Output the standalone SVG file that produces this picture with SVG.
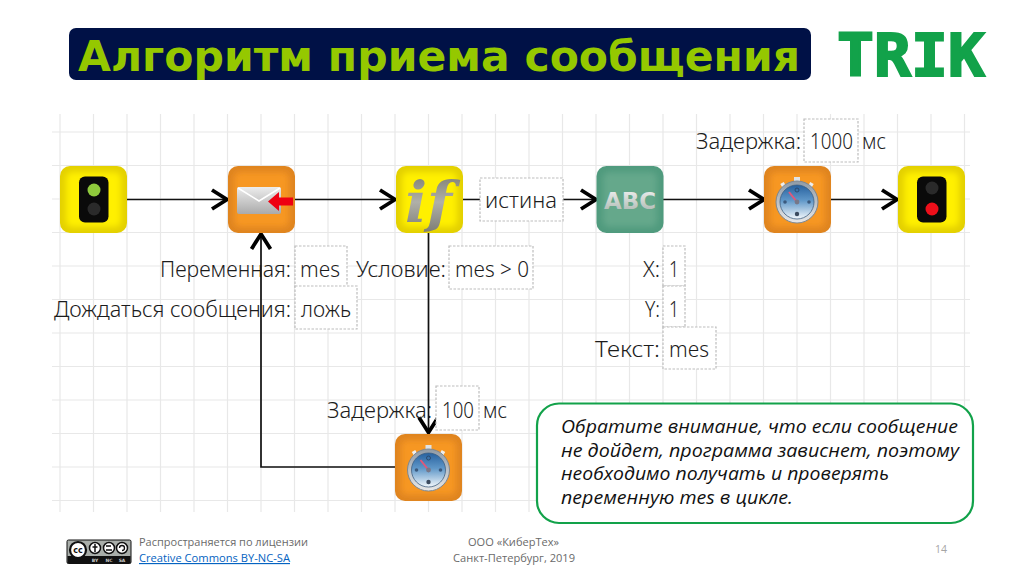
<svg xmlns="http://www.w3.org/2000/svg" width="1024" height="574" viewBox="0 0 1024 574">
<defs>
<style>
.lbl{font-family:"Noto Sans","Liberation Sans",sans-serif;font-size:22px;fill:#1c1c1c;font-weight:300}
.box{fill:#fff;stroke:#bdbdbd;stroke-width:1.2;stroke-dasharray:2.5 1.5}
.wire{fill:none;stroke:#111;stroke-width:1.7}
.note{font-family:"Open Sans","Liberation Sans",sans-serif;font-style:italic;font-size:18.300px;fill:#111}
.foot{font-family:"Open Sans","Liberation Sans",sans-serif;font-size:11.500px;fill:#6a6a6a}
.grid{stroke:#e8e8e8;stroke-width:1.2;fill:none}
</style>
<marker id="arr" markerUnits="userSpaceOnUse" markerWidth="26" markerHeight="26" refX="20" refY="13" orient="auto">
<path d="M4 3.500 L19 13 L4 22.500" fill="none" stroke="#000" stroke-width="3.800" stroke-linejoin="miter"/>
</marker>
<filter id="soft" x="-20%" y="-20%" width="140%" height="140%"><feGaussianBlur stdDeviation="3"/></filter>
<linearGradient id="env" x1="0" y1="0" x2="0" y2="1"><stop offset="0" stop-color="#ececec"/><stop offset="1" stop-color="#aaa"/></linearGradient>
<linearGradient id="gly" x1="0" y1="0" x2="0" y2="1"><stop offset="0" stop-color="#77776a"/><stop offset="0.5" stop-color="#b0b0a8"/><stop offset="1" stop-color="#787870"/></linearGradient>
<linearGradient id="abc" x1="0" y1="0" x2="0" y2="1"><stop offset="0" stop-color="#f2f2f2"/><stop offset="1" stop-color="#a9b5ae"/></linearGradient>
<linearGradient id="dial" x1="0" y1="0" x2="0" y2="1"><stop offset="0" stop-color="#27619f"/><stop offset="0.45" stop-color="#5f97c8"/><stop offset="1" stop-color="#f2f7fb"/></linearGradient>
<linearGradient id="rim" x1="0" y1="0" x2="0" y2="1"><stop offset="0" stop-color="#8f9aa5"/><stop offset="1" stop-color="#e8e8e8"/></linearGradient>
<g id="yel"><rect width="67" height="67" rx="10" fill="#e3d000"/><rect x="6" y="6" width="55" height="55" rx="6" fill="#fff000" filter="url(#soft)"/></g>
<g id="ora"><rect width="67" height="67" rx="10" fill="#df8420"/><rect x="6" y="6" width="55" height="55" rx="6" fill="#f79720" filter="url(#soft)"/></g>
<g id="watch">
<rect x="-3" y="-25" width="6" height="6" fill="#dfe3e6"/>
<path d="M-15 -19 L-12 -14 M15 -19 L12 -14" stroke="#eee" stroke-width="4"/>
<circle r="21" fill="url(#rim)" stroke="#7d8791" stroke-width="1"/>
<circle r="17" fill="url(#dial)" stroke="#3f5f82" stroke-width="0.8"/>
<circle cy="-12" r="2" fill="none" stroke="#2c4a6e"/><circle cx="-12" r="1.8" fill="#3b5a7e"/><circle cx="12" r="1.8" fill="#3b5a7e"/><circle cy="12" r="2.2" fill="#3b4a5e"/>
<path d="M0 0 L-8 -10" stroke="#e0587a" stroke-width="2"/><circle r="2.4" fill="#778" />
</g>
</defs>
<rect width="1024" height="574" fill="#fff"/>
<path class="grid" d="M60 114V512M93.500 114V512M127 114V512M160.500 114V512M194 114V512M227.500 114V512M261 114V512M294.500 114V512M328 114V512M361.500 114V512M395 114V512M428.500 114V512M462 114V512M495.500 114V512M529 114V512M562.500 114V512M596 114V512M629.500 114V512M663 114V512M696.500 114V512M730 114V512M763.500 114V512M797 114V512M830.500 114V512M864 114V512M897.500 114V512M931 114V512M964.500 114V512M52 132H970M52 165.500H970M52 199H970M52 232.500H970M52 266H970M52 299.500H970M52 333H970M52 366.500H970M52 400H970M52 433.500H970M52 467H970M52 500.500H970"/>
<g id="title"><rect x="69" y="28" width="742" height="52" rx="7" fill="#001146"/>
<text x="78" y="70.500" font-family="DejaVu Sans,sans-serif" font-weight="700" font-size="42.500" fill="#95c800" textLength="722" lengthAdjust="spacing">Алгоритм приема сообщения</text></g>
<g id="logo"><text x="837" y="75.500" font-family="DejaVu Sans Mono,monospace" font-weight="700" font-size="58" fill="#12a24a" stroke="#12a24a" stroke-width="2" textLength="148" lengthAdjust="spacingAndGlyphs">TRIK</text></g>
<g id="connectors">
<path class="wire" d="M127 199.500H228" marker-end="url(#arr)"/>
<path class="wire" d="M295 199.500H396" marker-end="url(#arr)"/>
<path class="wire" d="M462 199.500H597" marker-end="url(#arr)"/>
<path class="wire" d="M663 199.500H765" marker-end="url(#arr)"/>
<path class="wire" d="M831 199.500H898" marker-end="url(#arr)"/>
<path class="wire" d="M428.500 233V433.500" marker-end="url(#arr)"/>
<path class="wire" d="M396 467H261V233" marker-end="url(#arr)"/>
</g>
<g id="n-start"><use href="#yel" x="60" y="166"/><rect x="79" y="176.500" width="29.500" height="46" rx="6" fill="#0a0a0a"/><circle cx="94" cy="190" r="6.500" fill="#8fca3c"/><circle cx="94" cy="209" r="6.500" fill="#2a2a2a"/></g>
<g id="n-receive"><use href="#ora" x="228" y="166"/><rect x="237" y="187" width="44" height="27" rx="2" fill="url(#env)"/><path d="M238 188 L259 201 L280 188" fill="none" stroke="#fff" stroke-width="1.500"/><path d="M268 201.500 L279 192 V197.500 H293 V205.500 H279 V211Z" fill="#ee0012"/></g>
<g id="n-if"><use href="#yel" x="396" y="166"/><text x="405" y="222" font-family="DejaVu Serif,serif" font-style="italic" font-weight="700" font-size="56" fill="url(#gly)" textLength="47" lengthAdjust="spacingAndGlyphs">if</text></g>
<g id="l-cond"><rect class="box" x="480" y="178" width="83" height="43"/><text class="lbl" x="485" y="208" textLength="72">истина</text></g>
<g id="n-abc"><rect x="596.500" y="166" width="67" height="67" rx="10" fill="#4f9a7d"/><rect x="603" y="172" width="54" height="55" rx="6" fill="#65a88b" filter="url(#soft)"/><text x="604" y="209" font-family="DejaVu Sans,sans-serif" font-weight="700" font-size="23" fill="url(#abc)" textLength="52" lengthAdjust="spacingAndGlyphs">ABC</text></g>
<g id="n-delay1"><use href="#ora" x="764" y="166"/><use href="#watch" x="797" y="202"/></g>
<g id="n-stop"><use href="#yel" x="898" y="166"/><rect x="917" y="176.500" width="29.500" height="46" rx="6" fill="#0a0a0a"/><circle cx="932" cy="188" r="6.500" fill="#2a2a2a"/><circle cx="932" cy="209" r="6.500" fill="#ee0f1a"/></g>
<g id="n-delay2"><use href="#ora" x="395" y="434"/><use href="#watch" x="428.500" y="470"/></g>
<g id="l-receive">
<rect class="box" x="295" y="246" width="52" height="41"/><rect class="box" x="295" y="286" width="62" height="43"/>
<text class="lbl" x="160" y="277" textLength="131" lengthAdjust="spacingAndGlyphs">Переменная:</text><text class="lbl" x="300" y="277" textLength="40" lengthAdjust="spacingAndGlyphs">mes</text>
<text class="lbl" x="54" y="317" textLength="237" lengthAdjust="spacingAndGlyphs">Дождаться сообщения:</text><text class="lbl" x="301" y="317" textLength="50" lengthAdjust="spacingAndGlyphs">ложь</text></g>
<g id="l-if"><rect class="box" x="449" y="246" width="84" height="43"/><text class="lbl" x="356" y="277" textLength="90" lengthAdjust="spacingAndGlyphs">Условие:</text><text class="lbl" x="455" y="277" textLength="74" lengthAdjust="spacingAndGlyphs">mes &gt; 0</text></g>
<g id="l-abc"><rect class="box" x="663" y="246" width="22" height="40"/><rect class="box" x="663" y="286" width="22" height="41"/><rect class="box" x="663" y="327" width="53" height="42"/>
<text class="lbl" x="643" y="277" textLength="17" lengthAdjust="spacingAndGlyphs">X:</text><text class="lbl" x="669" y="277" textLength="10" lengthAdjust="spacingAndGlyphs">1</text>
<text class="lbl" x="645" y="317" textLength="15" lengthAdjust="spacingAndGlyphs">Y:</text><text class="lbl" x="669" y="317" textLength="10" lengthAdjust="spacingAndGlyphs">1</text>
<text class="lbl" x="595" y="357" textLength="65" lengthAdjust="spacingAndGlyphs">Текст:</text><text class="lbl" x="669" y="357" textLength="40" lengthAdjust="spacingAndGlyphs">mes</text></g>
<g id="l-delay1"><rect class="box" x="804" y="119" width="54" height="43"/><text class="lbl" x="696" y="149" textLength="105" lengthAdjust="spacingAndGlyphs">Задержка:</text><text class="lbl" x="810" y="149" textLength="43" lengthAdjust="spacingAndGlyphs">1000</text><text class="lbl" x="862" y="149" textLength="24" lengthAdjust="spacingAndGlyphs">мс</text></g>
<g id="l-delay2"><rect class="box" x="436" y="386" width="43" height="44"/><text class="lbl" x="327" y="418" textLength="105" lengthAdjust="spacingAndGlyphs">Задержка:</text><text class="lbl" x="442" y="418" textLength="32" lengthAdjust="spacingAndGlyphs">100</text><text class="lbl" x="483" y="418" textLength="24" lengthAdjust="spacingAndGlyphs">мс</text></g>
<g id="note"><rect x="537" y="403.500" width="436" height="119.500" rx="22" fill="#fff" stroke="#12a24a" stroke-width="2.200"/>
<text class="note" x="561" y="433" textLength="397" lengthAdjust="spacingAndGlyphs">Обратите внимание, что если сообщение</text>
<text class="note" x="561" y="456.500" textLength="398" lengthAdjust="spacingAndGlyphs">не дойдет, программа зависнет, поэтому</text>
<text class="note" x="561" y="480" textLength="328" lengthAdjust="spacingAndGlyphs">необходимо получать и проверять</text>
<text class="note" x="561" y="503.500" textLength="232" lengthAdjust="spacingAndGlyphs">переменную mes в цикле.</text></g>
<g id="cc"><rect x="67" y="540" width="64" height="23.500" rx="1.500" fill="#a9aeaa" stroke="#111"/><path d="M67.500 556H130.500V563.500H67.500Z" fill="#111"/>
<circle cx="78" cy="550" r="8" fill="#fff" stroke="#111" stroke-width="2.200"/><text x="78" y="553" text-anchor="middle" font-family="DejaVu Sans,sans-serif" font-weight="700" font-size="8" fill="#111">cc</text>
<circle cx="95" cy="548" r="5.500" fill="#fff" stroke="#111" stroke-width="1.500"/><circle cx="109" cy="548" r="5.500" fill="#fff" stroke="#111" stroke-width="1.500"/><circle cx="122" cy="548" r="5.500" fill="#fff" stroke="#111" stroke-width="1.500"/>
<path d="M95 544V552M92.500 547H97.500" stroke="#111" stroke-width="1.500"/><path d="M106 546H111M106 550H112" stroke="#111" stroke-width="1.300"/><path d="M119.500 548A2.500 2.500 0 1 1 122 550.500" fill="none" stroke="#111" stroke-width="1.300"/>
<text x="95" y="562" text-anchor="middle" font-family="DejaVu Sans,sans-serif" font-weight="700" font-size="4.500" fill="#ccc">BY</text><text x="109" y="562" text-anchor="middle" font-family="DejaVu Sans,sans-serif" font-weight="700" font-size="4.500" fill="#ccc">NC</text><text x="122" y="562" text-anchor="middle" font-family="DejaVu Sans,sans-serif" font-weight="700" font-size="4.500" fill="#ccc">SA</text></g>
<g id="footer">
<text class="foot" x="139" y="546" textLength="169" lengthAdjust="spacingAndGlyphs">Распространяется по лицензии</text>
<text class="foot" x="139" y="562" textLength="151" lengthAdjust="spacingAndGlyphs" style="fill:#0563c1;text-decoration:underline">Creative Commons BY-NC-SA</text>
<text class="foot" x="468" y="546" textLength="91" lengthAdjust="spacingAndGlyphs">ООО «КиберТех»</text>
<text class="foot" x="453" y="562" textLength="122" lengthAdjust="spacingAndGlyphs">Санкт-Петербург, 2019</text>
<text class="foot" x="935" y="553" textLength="12" lengthAdjust="spacingAndGlyphs" style="fill:#a5a5a5">14</text></g>
</svg>
